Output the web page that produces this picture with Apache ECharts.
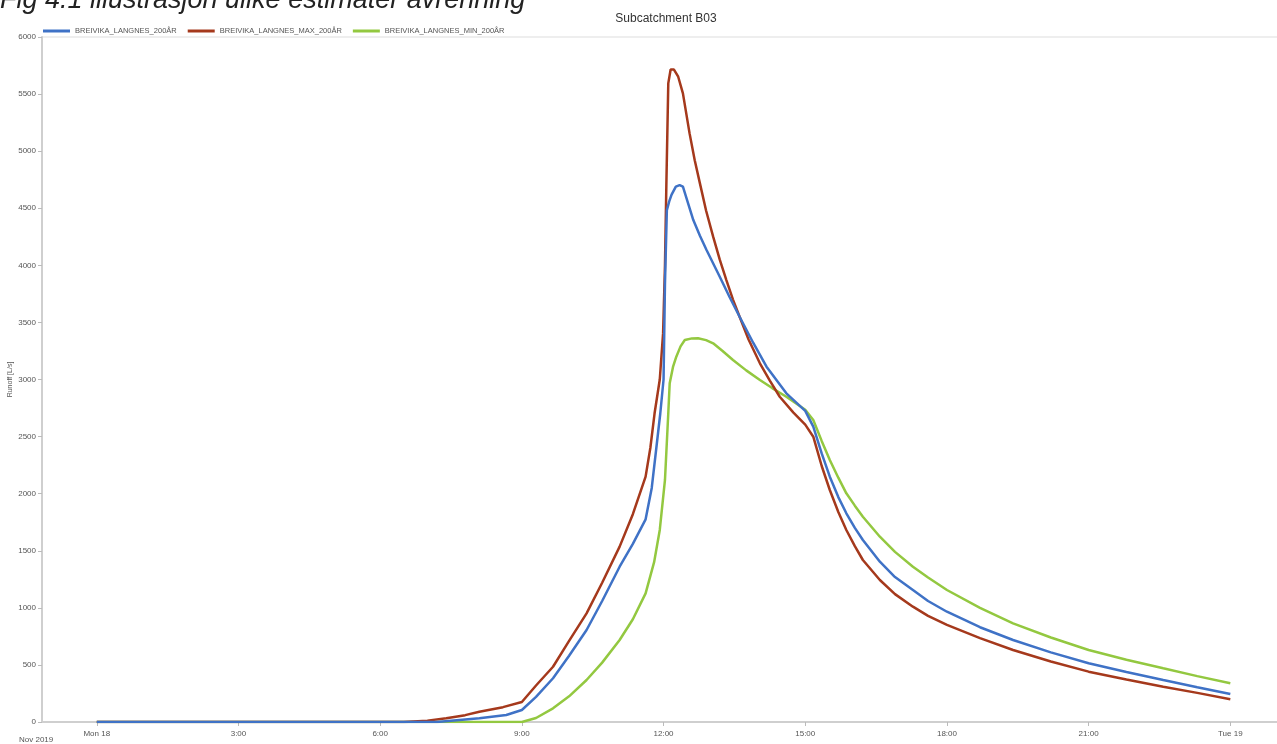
<!DOCTYPE html>
<html>
<head>
<meta charset="utf-8">
<script src="https://cdn.jsdelivr.net/npm/echarts@6/dist/echarts.min.js"></script>
<style>
html,body{margin:0;padding:0;background:#fff;}
#chart{width:1277px;height:744px;}
</style>
</head>
<body>
<div id="chart"></div>
<script>
// Hours since Mon 18 Nov 2019 00:00, flow in L/s
const seriesNames = ['BREIVIKA_LANGNES_200ÅR', 'BREIVIKA_LANGNES_MAX_200ÅR', 'BREIVIKA_LANGNES_MIN_200ÅR'];

const base200 = [[0,0],[7.2,0],[8.1,32],[8.67,61],[9.0,105],[9.3,220],[9.66,383],[10.0,580],[10.37,806],[10.7,1060],[11.07,1360],[11.35,1560],[11.62,1775],[11.75,2050],[11.85,2411],[11.93,2700],[12.0,3000],[12.03,3842],[12.07,4484],[12.12,4560],[12.17,4620],[12.26,4690],[12.34,4703],[12.41,4689],[12.5,4570],[12.63,4397],[12.77,4260],[12.91,4134],[13.19,3900],[13.4,3720],[13.61,3550],[13.9,3320],[14.18,3112],[14.6,2879],[15.0,2725],[15.17,2587],[15.35,2350],[15.52,2149],[15.7,1970],[15.87,1828],[16.05,1700],[16.22,1594],[16.58,1404],[16.9,1270],[17.28,1156],[17.6,1060],[18.0,966],[18.7,830],[19.4,718],[20.2,610],[21.0,514],[21.8,438],[22.58,368],[23.3,305],[24.0,245]];

const max200 = [[0,0],[6.5,0],[7.0,12],[7.4,32],[7.8,60],[8.1,90],[8.6,130],[9.0,175],[9.3,320],[9.66,484],[10.0,710],[10.37,952],[10.7,1220],[11.07,1536],[11.35,1820],[11.62,2149],[11.72,2400],[11.81,2704],[11.92,3000],[11.99,3404],[12.03,4000],[12.06,4720],[12.1,5594],[12.15,5715],[12.22,5715],[12.31,5652],[12.41,5506],[12.55,5158],[12.66,4920],[12.77,4718],[12.9,4480],[13.05,4251],[13.19,4050],[13.33,3871],[13.47,3700],[13.61,3550],[13.8,3350],[14.04,3142],[14.25,2990],[14.46,2849],[14.75,2710],[15.0,2605],[15.17,2499],[15.35,2240],[15.52,2032],[15.7,1840],[15.87,1682],[16.05,1540],[16.22,1419],[16.58,1244],[16.9,1120],[17.28,1010],[17.6,930],[18.0,850],[18.7,735],[19.4,631],[20.2,530],[21.0,441],[21.8,372],[22.58,309],[23.3,255],[24.0,199]];

const min200 = [[0,0],[9.0,0],[9.3,35],[9.66,120],[10.0,225],[10.37,368],[10.7,520],[11.07,718],[11.35,900],[11.62,1127],[11.8,1400],[11.92,1682],[12.03,2120],[12.1,2704],[12.13,2967],[12.2,3110],[12.27,3200],[12.36,3290],[12.45,3346],[12.6,3360],[12.73,3361],[12.9,3345],[13.05,3317],[13.25,3250],[13.47,3171],[13.75,3080],[14.04,2996],[14.3,2925],[14.6,2849],[15.0,2735],[15.17,2645],[15.35,2460],[15.52,2295],[15.7,2140],[15.87,2003],[16.05,1895],[16.22,1798],[16.58,1623],[16.9,1490],[17.28,1360],[17.6,1265],[18.0,1156],[18.7,1000],[19.4,864],[20.2,740],[21.0,631],[21.8,545],[22.58,470],[23.3,402],[24.0,339]];

const xTickHours = [0,3,6,9,12,15,18,21,24];
const xTickLabels = ['Mon 18','3:00','6:00','9:00','12:00','15:00','18:00','21:00','Tue 19'];

const colors = ['#3f72c6', '#a5391c', '#93c840'];
const fontFam = 'Liberation Sans';

const chart = echarts.init(document.getElementById('chart'));
const lineSeries = [base200, max200, min200].map((d, i) => ({
  name: seriesNames[i],
  type: 'line',
  data: d,
  showSymbol: false,
  smooth: false,
  lineStyle: {color: colors[i], width: 2.5},
  itemStyle: {color: colors[i]},
  z: i === 0 ? 4 : (i === 1 ? 3 : 2)
}));

chart.setOption({
  animation: false,
  backgroundColor: '#fff',
  title: {
    text: 'Subcatchment B03',
    left: 661, textAlign: 'center',
    top: 8,
    textStyle: {fontSize: 12, fontWeight: 'normal', color: '#333', fontFamily: fontFam}
  },
  graphic: [
    {type: 'text', left: 0, top: -13, style: {text: 'Fig 4.1 illustrasjon ulike estimater avrenning', font: 'italic 27px "Liberation Sans"', fill: '#222'}},
    {type: 'text', left: 19, top: 736, style: {text: 'Nov 2019', font: '8px "Liberation Sans"', fill: '#555'}}
  ],
  legend: {
    left: 38, top: 22,
    icon: 'rect', itemWidth: 27, itemHeight: 3, itemGap: 11,
    textStyle: {fontSize: 7.5, color: '#555', fontFamily: fontFam},
    data: seriesNames
  },
  grid: {left: 42, right: -10, top: 37, bottom: 22, show: true, borderColor: '#ddd', borderWidth: 1, containLabel: false, outerBoundsMode: 'none'},
  xAxis: {
    type: 'value',
    min: -1.16, max: 25.2,
    name: 'Date/Time', nameLocation: 'middle', nameGap: 19,
    nameTextStyle: {fontSize: 8, color: '#555', fontFamily: fontFam},
    axisLine: {show: true, onZero: false, lineStyle: {color: '#cfcfcf', width: 2}},
    axisTick: {show: true, customValues: xTickHours, length: 4, lineStyle: {color: '#bbb'}},
    axisLabel: {customValues: xTickHours, fontSize: 8, color: '#555', margin: 8, fontFamily: fontFam,
      formatter: v => { const i = xTickHours.indexOf(Math.round(v)); return i >= 0 ? xTickLabels[i] : ''; }},
    splitLine: {show: false}
  },
  yAxis: {
    type: 'value',
    min: 0, max: 6000, interval: 500,
    name: 'Runoff [L/s]', nameLocation: 'middle', nameGap: 28, nameMoveOverlap: false,
    nameTextStyle: {fontSize: 7, color: '#555', fontFamily: fontFam},
    axisLine: {show: true, onZero: false, lineStyle: {color: '#cfcfcf', width: 2}},
    axisTick: {show: true, length: 4, lineStyle: {color: '#bbb'}},
    axisLabel: {fontSize: 8, color: '#555', margin: 6, fontFamily: fontFam, formatter: v => String(v)},
    splitLine: {show: false}
  },
  series: lineSeries
});
</script>
</body>
</html>
